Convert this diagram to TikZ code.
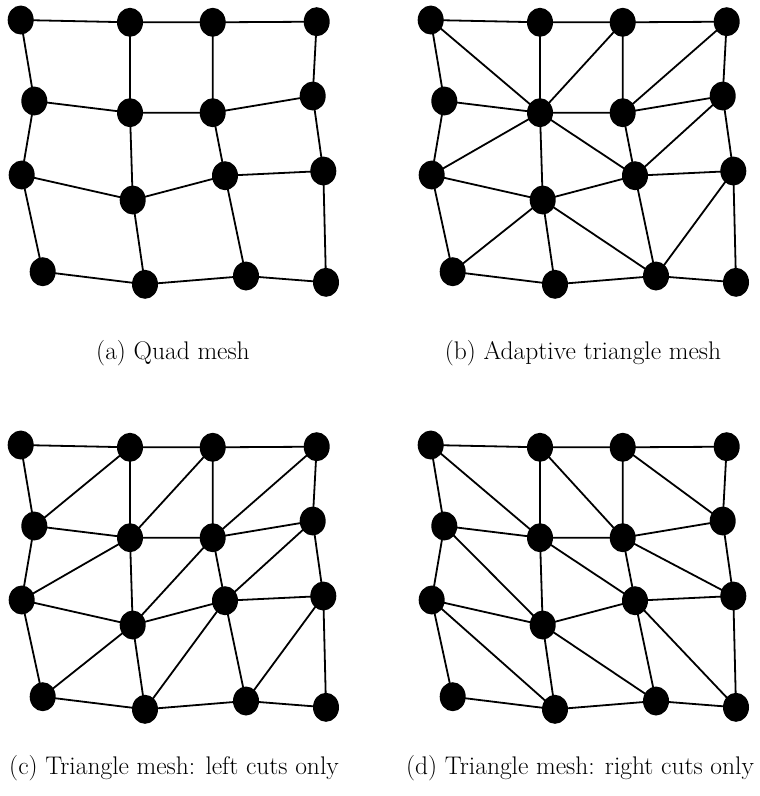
\documentclass[tikz,border=0pt]{standalone}
\usetikzlibrary{shapes.geometric}
\tikzset{
  vert/.style={ellipse,fill=black,draw=none,minimum width=26pt,minimum height=29pt,inner sep=0pt},
  edge/.style={line width=1.8pt,black},
  capt/.style={font=\fontsize{25.5}{30}\selectfont,inner sep=0pt}
}
\newcommand{\MeshNodes}[3]{%
  \foreach \nm/\px/\py in {11/20.7/20,12/130/22.3,13/212.7/22.3,14/316.7/21.7,
                           21/34.3/101,22/130/112.7,23/212.7/112.7,24/312.7/96,
                           31/21.7/175,32/132.7/200,33/225/175.7,34/323.3/171,
                           41/42.7/271.7,42/145/284.3,43/246/276,44/326/282.3}
    {\coordinate (#1\nm) at (\px+#2,\py+#3);}%
}
\newcommand{\QuadEdges}[1]{%
  \foreach \r in {1,2,3,4}{
    \draw[edge] (#1\r1) -- (#1\r2) -- (#1\r3) -- (#1\r4);
    \draw[edge] (#11\r) -- (#12\r) -- (#13\r) -- (#14\r);
  }%
}
\newcommand{\PlaceVerts}[1]{%
  \foreach \nm in {11,12,13,14,21,22,23,24,31,32,33,34,41,42,43,44}
    {\node[vert] (v#1\nm) at (#1\nm) {};}%
}
\begin{document}
\begin{tikzpicture}[x=1pt,y=-1pt]
\useasboundingbox (0,0) rectangle (760,796);
\MeshNodes{a}{0}{0}
\MeshNodes{b}{410}{0}
\MeshNodes{c}{0}{425}
\MeshNodes{d}{410}{425}
% quad edges
\QuadEdges{a}
\QuadEdges{b}
\QuadEdges{c}
\QuadEdges{d}
% (b) adaptive diagonals
\foreach \p/\q in {11/22,13/22,14/23,22/31,22/33,24/33,32/41,32/43,34/43}
  \draw[edge] (b\p) -- (b\q);
% (c) left cuts
\foreach \p/\q in {21/12,22/13,23/14,31/22,32/23,33/24,41/32,42/33,43/34}
  \draw[edge] (c\p) -- (c\q);
% (d) right cuts
\foreach \p/\q in {11/22,12/23,13/24,21/32,22/33,23/34,31/42,32/43,33/44}
  \draw[edge] (d\p) -- (d\q);
\PlaceVerts{a}
\PlaceVerts{b}
\PlaceVerts{c}
\PlaceVerts{d}
\node[capt] (capa) at (173,353) {(a) Quad mesh};
\node[capt] (capb) at (583,353) {(b) Adaptive triangle mesh};
\node[capt] (capc) at (174,768) {(c) Triangle mesh: left cuts only};
\node[capt] (capd) at (580,768) {(d) Triangle mesh: right cuts only};
\end{tikzpicture}
\end{document}
